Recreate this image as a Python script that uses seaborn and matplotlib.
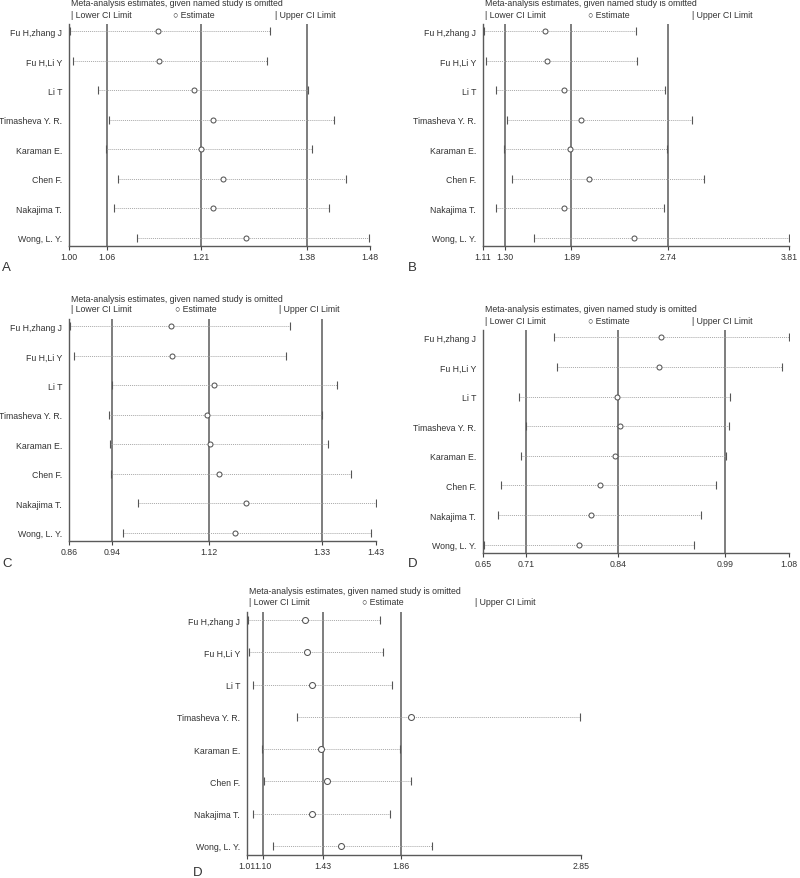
import matplotlib
matplotlib.use("Agg")
import matplotlib.pyplot as plt
import seaborn as sns
import pandas as pd
import numpy as np

studies = ["Fu H,zhang J", "Fu H,Li Y", "Li T", "Timasheva Y. R.",
           "Karaman E.", "Chen F.", "Nakajima T.", "Wong, L. Y."]

# Panel A
a_est = [1.142, 1.144, 1.200, 1.229, 1.210, 1.245, 1.230, 1.283]
a_low = [1.001, 1.006, 1.047, 1.064, 1.059, 1.078, 1.071, 1.108]
a_up = [1.320, 1.316, 1.381, 1.422, 1.387, 1.441, 1.414, 1.479]
a_ticks = [1.00, 1.06, 1.21, 1.38, 1.48]

# Panel B
b_est = [1.654, 1.672, 1.822, 1.975, 1.875, 2.049, 1.822, 2.440]
b_low = [1.116, 1.134, 1.222, 1.324, 1.291, 1.365, 1.228, 1.563]
b_up = [2.461, 2.469, 2.714, 2.956, 2.734, 3.062, 2.705, 3.810]
b_ticks = [1.11, 1.30, 1.89, 2.74, 3.81]

# Panel C
c_est = [1.049, 1.051, 1.130, 1.116, 1.121, 1.139, 1.188, 1.168]
c_low = [0.861, 0.869, 0.940, 0.935, 0.936, 0.938, 0.988, 0.960]
c_up = [1.270, 1.262, 1.358, 1.329, 1.341, 1.383, 1.430, 1.421]
c_ticks = [0.86, 0.94, 1.12, 1.33, 1.43]

# Panel D
d_est = [0.900, 0.898, 0.838, 0.842, 0.836, 0.814, 0.802, 0.785]
d_low = [0.750, 0.754, 0.701, 0.711, 0.703, 0.675, 0.671, 0.651]
d_up = [1.080, 1.070, 0.997, 0.995, 0.991, 0.977, 0.956, 0.947]
d_ticks = [0.65, 0.71, 0.84, 0.99, 1.08]

# Panel E (bottom, labelled D)
e_est = [1.327, 1.341, 1.370, 1.913, 1.419, 1.452, 1.370, 1.526]
e_low = [1.014, 1.020, 1.044, 1.283, 1.092, 1.105, 1.044, 1.154]
e_up = [1.742, 1.757, 1.807, 2.846, 1.853, 1.913, 1.799, 2.031]
e_ticks = [1.01, 1.10, 1.43, 1.86, 2.85]
e_ticklabels = ["1.01", "1.10", "1.43", "1.86", "2.85"]

title_text = "Meta-analysis estimates, given named study is omitted"
legend_texts = ["| Lower CI Limit", "\u25cb Estimate", "| Upper CI Limit"]

sns.set_style("white")
plt.rcParams["font.family"] = ["Liberation Sans", "DejaVu Sans"]

W, H = 800, 879
fig = plt.figure(figsize=(W / 100, H / 100), dpi=100)
TXT = "#333333"
LINE = "#5a5a5a"


def rect(l, t, r, b):
    return [l / W, 1 - b / H, (r - l) / W, (b - t) / H]


def panel(l, t, r, b, est, low, up, ticks, letter, letter_xy, msize=3.6,
          ticklabels=None):
    ax = fig.add_axes(rect(l, t, r, b))
    df = pd.DataFrame({"study": studies, "est": est, "low": low, "up": up,
                       "pos": np.arange(len(studies))})
    for v in ticks[1:4]:
        ax.axvline(v, color=LINE, lw=1.1, zorder=1)
    ax.hlines(df["pos"], df["low"], df["up"], color="#a8a8a8", lw=0.7,
              linestyles=(0, (1, 1)), zorder=2)
    ax.plot(df["low"], df["pos"], ls="none", marker="|", ms=5.5, mew=0.8,
            color="#555555", zorder=3)
    ax.plot(df["up"], df["pos"], ls="none", marker="|", ms=5.5, mew=0.8,
            color="#555555", zorder=3)
    sns.scatterplot(data=df, x="est", y="pos", ax=ax, marker="o", s=msize ** 2,
                    facecolor="white", edgecolor="#555555", linewidth=0.75,
                    zorder=4, legend=False)
    ax.set_xlim(ticks[0], ticks[-1])
    ax.set_ylim(7.28, -0.25)
    ax.set_xticks(ticks)
    ax.set_xticklabels(ticklabels if ticklabels else [f"{t:.2f}" for t in ticks])
    ax.set_yticks(df["pos"])
    ax.set_yticklabels(df["study"])
    ax.set_xlabel("")
    ax.set_ylabel("")
    ax.tick_params(axis="x", length=3, width=0.8, pad=1.5, labelsize=6.3,
                   colors="#444444", labelcolor=TXT, bottom=True)
    ax.tick_params(axis="y", length=0, pad=5, labelsize=6.3, labelcolor=TXT)
    for s in ["top", "right"]:
        ax.spines[s].set_visible(False)
    for s in ["left", "bottom"]:
        ax.spines[s].set_color(LINE)
        ax.spines[s].set_linewidth(1.0)
    # header
    wpx = r - l
    fig.text((l + 2) / W, 1 - (t - 21) / H, title_text, fontsize=6.3,
             color=TXT, va="center", ha="left")
    for frac, txt in zip([0.0, 0.338, 0.677], legend_texts):
        fig.text((l + 2 + frac * wpx) / W, 1 - (t - 10) / H, txt,
                 fontsize=6.3, color=TXT, va="center", ha="left")
    fig.text(letter_xy[0] / W, 1 - letter_xy[1] / H, letter, fontsize=9.5,
             color=TXT, va="center", ha="left")
    return ax


panel(69, 25, 370, 247, a_est, a_low, a_up, a_ticks, "A", (2, 268))
panel(483, 25, 789, 247, b_est, b_low, b_up, b_ticks, "B", (408, 268))
panel(69, 320, 376, 542, c_est, c_low, c_up, c_ticks, "C", (2, 564))
panel(483, 331, 789, 554, d_est, d_low, d_up, d_ticks, "D", (408, 564))
panel(247, 613, 581, 856, e_est, e_low, e_up, e_ticks, "D", (193, 873),
      msize=4.3, ticklabels=e_ticklabels)

fig.savefig("out.png", dpi=100, facecolor="white")
